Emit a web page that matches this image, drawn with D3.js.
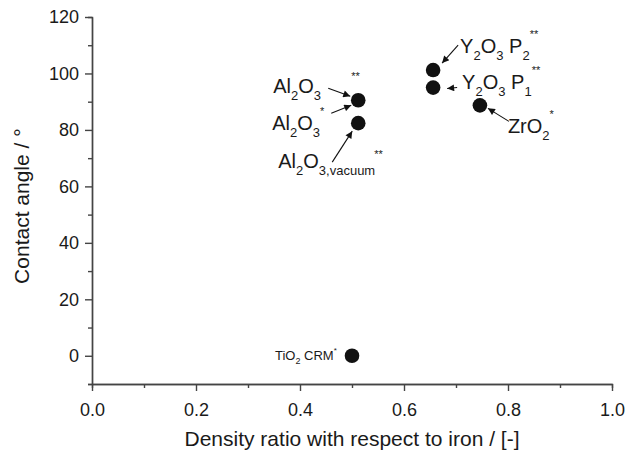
<!DOCTYPE html>
<html>
<head>
<meta charset="utf-8">
<script src="https://cdn.jsdelivr.net/npm/d3@7"></script>
<style>
  body { margin: 0; background: #fff; }
  text { font-family: "Liberation Sans", Arial, sans-serif; fill: #1a1a1a; }
</style>
</head>
<body>
<div id="chart"></div>
<script>
// data
var materials = ["Al2O3 **", "Al2O3 vacuum", "Y2O3 P2", "Y2O3 P1", "ZrO2", "TiO2 CRM"];
var densityRatio = [0.512, 0.512, 0.656, 0.656, 0.746, 0.50];
var contactAngle = [90.5, 82.4, 101.2, 95.0, 88.7, 0];

var xTicks = [0, 0.2, 0.4, 0.6, 0.8, 1.0];
var yTicks = [0, 20, 40, 60, 80, 100, 120];

// annotation labels: segments [text, kind], kind n = normal, b = sub, p = sup
var labels = [
  { at: 0, dx: -85, dy: -7, big: true, parts: [["Al", "n"], ["2", "b"], ["O", "n"], ["3", "b"]], arrow: [-30, -12, -8, -4] },
  { at: 0, dx: -86, dy: 30, big: true, parts: [["Al", "n"], ["2", "b"], ["O", "n"], ["3", "b"], ["*", "p"]], arrow: [-27, 13, -7, 5] },
  { at: 1, dx: -80, dy: 45, big: true, parts: [["Al", "n"], ["2", "b"], ["O", "n"], ["3,vacuum", "b"]], arrow: [-26, 39, -6, 8] },
  { at: 2, dx: 27, dy: -17, big: true, parts: [["Y", "n"], ["2", "b"], ["O", "n"], ["3", "b"], [" P", "n"], ["2", "b"], ["**", "p"]], arrow: [25, -25, 9, -7] },
  { at: 3, dx: 29, dy: 1, big: true, parts: [["Y", "n"], ["2", "b"], ["O", "n"], ["3", "b"], [" P", "n"], ["1", "b"], ["**", "p"]], arrow: [24, 0, 14, 1] },
  { at: 4, dx: 28, dy: 28, big: true, parts: [["ZrO", "n"], ["2", "b"], ["*", "p"]], arrow: [29, 16, 8, 3] },
  { at: 5, dx: -77, dy: 4, big: false, parts: [["TiO", "n"], ["2", "b"], [" CRM", "n"], ["*", "p"]], arrow: null }
];

var margin = { top: 17, right: 15, bottom: 71, left: 92 },
    width = 627 - margin.left - margin.right,
    height = 455 - margin.top - margin.bottom;

var svg = d3.select("#chart")
    .append("svg")
    .attr("width", 627)
    .attr("height", 455)
    .append("g")
    .attr("transform", "translate(" + margin.left + "," + margin.top + ")");

var x = d3.scaleLinear().domain([0, 1]).range([0, width]);
var y = d3.scaleLinear().domain([-10, 120]).range([height, 0]);

// arrow head
svg.append("defs").append("marker")
    .attr("id", "head")
    .attr("viewBox", "0 0 10 10")
    .attr("refX", 10).attr("refY", 5)
    .attr("markerWidth", 10).attr("markerHeight", 7)
    .attr("markerUnits", "userSpaceOnUse")
    .attr("orient", "auto")
    .append("path")
    .attr("d", "M0,0 L10,5 L0,10 Z")
    .attr("fill", "#111");

// minor ticks
var xAxisMinor = d3.axisBottom(x).tickValues(d3.range(0.1, 1, 0.2)).tickSize(4).tickFormat("");
var yAxisMinor = d3.axisLeft(y).tickValues(d3.range(-10, 120, 20)).tickSize(4).tickFormat("");

svg.append("g").attr("class", "axis").attr("transform", "translate(0," + height + ")").call(xAxisMinor);
svg.append("g").attr("class", "axis").call(yAxisMinor);

var gx = svg.append("g")
    .attr("class", "axis")
    .attr("transform", "translate(0," + height + ")")
    .call(d3.axisBottom(x).tickValues(xTicks).tickSize(7).tickSizeOuter(0).tickFormat(d3.format(".1f")));
var gy = svg.append("g")
    .attr("class", "axis")
    .call(d3.axisLeft(y).tickValues(yTicks).tickSize(7).tickSizeOuter(0));

svg.selectAll(".axis path, .axis line").attr("stroke", "#444").attr("stroke-width", 1.4);
svg.selectAll(".axis text").style("font-size", "18px").attr("fill", "#1a1a1a")
    .style("font-family", "'Liberation Sans', Arial, sans-serif");
gx.selectAll("text").attr("dy", "1.2em");
gy.selectAll("text").attr("x", -13);

// axis titles
svg.append("text")
    .attr("x", width / 2)
    .attr("y", height + 62)
    .attr("text-anchor", "middle")
    .style("font-size", "21px")
    .text("Density ratio with respect to iron / [-]");

svg.append("text")
    .attr("transform", "rotate(-90)")
    .attr("x", -y(53))
    .attr("y", -63)
    .attr("text-anchor", "middle")
    .style("font-size", "21px")
    .text("Contact angle / °");

// points
svg.append("g")
    .selectAll("circle")
    .data(materials)
    .enter()
    .append("circle")
    .attr("cx", function (d, i) { return x(densityRatio[i]); })
    .attr("cy", function (d, i) { return y(contactAngle[i]); })
    .attr("r", 7.3)
    .attr("fill", "#111");

// labels + arrows
labels.forEach(function (l) {
    var px = x(densityRatio[l.at]), py = y(contactAngle[l.at]);
    var fs = l.big ? 20 : 13, ss = l.big ? 13 : 9, ps = l.big ? 11 : 8;
    var t = svg.append("text")
        .attr("x", px + l.dx)
        .attr("y", py + l.dy)
        .style("font-size", fs + "px");
    var shift = 0;
    l.parts.forEach(function (p) {
        var target = p[1] === "b" ? (l.big ? 7 : 4) : p[1] === "p" ? (l.big ? -15 : -7) : 0;
        t.append("tspan")
            .attr("dy", target - shift)
            .style("font-size", (p[1] === "b" ? ss : p[1] === "p" ? ps : fs) + "px")
            .text(p[0]);
        shift = target;
    });
    if (l.arrow) {
        svg.append("line")
            .attr("x1", px + l.arrow[0]).attr("y1", py + l.arrow[1])
            .attr("x2", px + l.arrow[2]).attr("y2", py + l.arrow[3])
            .attr("stroke", "#111")
            .attr("stroke-width", 1.1)
            .attr("marker-end", "url(#head)");
    }
});

// stray ** marks that sit apart from their labels
svg.append("text")
    .attr("x", x(densityRatio[0]) - 7)
    .attr("y", y(contactAngle[0]) - 20)
    .style("font-size", "11px")
    .text("**");
svg.append("text")
    .attr("x", x(densityRatio[1]) + 16)
    .attr("y", y(contactAngle[1]) + 35)
    .style("font-size", "11px")
    .text("**");
</script>
</body>
</html>
